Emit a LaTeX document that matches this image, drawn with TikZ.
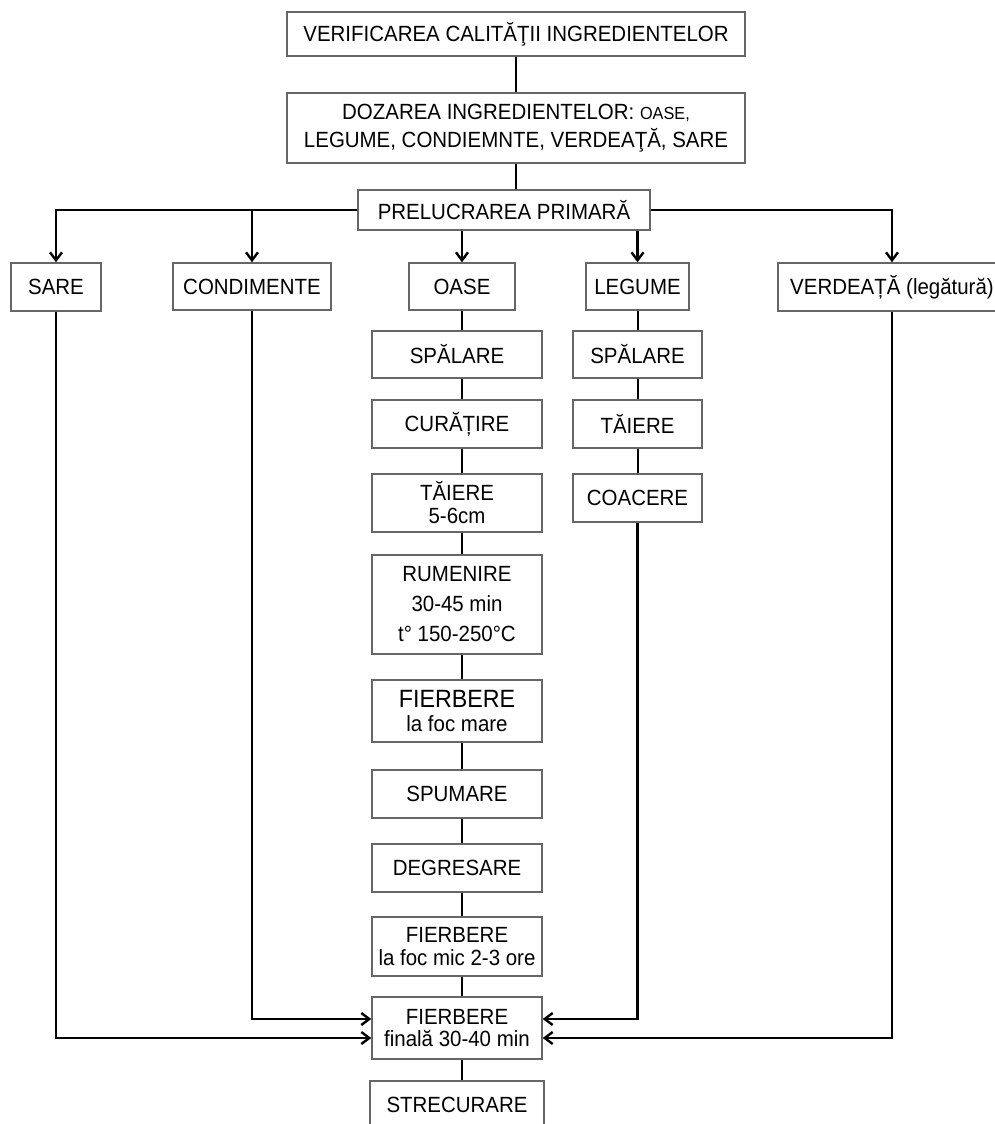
\documentclass[tikz,border=0pt]{standalone}
\usepackage{fontspec}
\setmainfont[FakeStretch=0.93]{Liberation Sans}
\usetikzlibrary{arrows.meta}
\begin{document}
\begin{tikzpicture}[x=1pt,y=1pt,
  box/.style={draw=black!60, line width=1.4pt, fill=white, inner sep=0pt, align=center,
    font=\fontsize{22}{25}\selectfont},
  conn/.style={line width=2pt, draw=black},
  arr/.style={line width=2.6pt, draw=black, -{Straight Barb[length=8pt,width=12pt,line width=2.4pt]}}]
\clip (0,0) rectangle (995,-1124);
\useasboundingbox (0,0) rectangle (995,-1124);
\fill[white] (0,0) rectangle (995,-1124);

\node[box, minimum width=458, minimum height=44] (verif) at (516,-34) {VERIFICAREA CALITĂŢII INGREDIENTELOR};
\node[box, minimum width=458, minimum height=70, font=\fontsize{22}{28}\selectfont] (doz) at (516,-128)
  {DOZAREA INGREDIENTELOR: {\fontsize{17.5}{28}\selectfont OASE,}\\LEGUME, CONDIEMNTE, VERDEAŢĂ, SARE};
\node[box, minimum width=292, minimum height=40] (prel) at (504,-210) {PRELUCRAREA PRIMARĂ};

\node[box, minimum width=90, minimum height=48] (sare) at (56,-287) {SARE};
\node[box, minimum width=158, minimum height=47] (cond) at (252,-286.5) {CONDIMENTE};
\node[box, minimum width=106, minimum height=47] (oase) at (462,-286.5) {OASE};
\node[box, minimum width=103, minimum height=47] (leg) at (637.5,-286.5) {LEGUME};
\node[box, minimum width=228, minimum height=48] (verd) at (892,-287) {VERDEAȚĂ (legătură)};

\node[box, minimum width=170, minimum height=47] (spal1) at (457,-354.5) {SPĂLARE};
\node[box, minimum width=170, minimum height=48] (cur) at (457,-424) {CURĂȚIRE};
\node[box, minimum width=170, minimum height=58, font=\fontsize{22}{23}\selectfont] (tai1) at (457,-503) {TĂIERE\\5-6cm};
\node[box, minimum width=170, minimum height=99, font=\fontsize{22}{30}\selectfont] (rum) at (457,-604.5) {RUMENIRE\\30-45 min\\t° 150-250°C};
\node[box, minimum width=170, minimum height=62, font=\fontsize{22}{24}\selectfont] (fier1) at (457,-711) {{\fontsize{25}{24}\selectfont FIERBERE}\\la foc mare};
\node[box, minimum width=170, minimum height=48] (spum) at (457,-794) {SPUMARE};
\node[box, minimum width=170, minimum height=48] (degr) at (457,-868) {DEGRESARE};
\node[box, minimum width=170, minimum height=59, font=\fontsize{22}{23}\selectfont] (fier2) at (457,-946.5) {FIERBERE\\la foc mic 2-3 ore};
\node[box, minimum width=170, minimum height=62, font=\fontsize{22}{22}\selectfont] (fin) at (457,-1028) {FIERBERE\\finală 30-40 min};
\node[box, minimum width=174, minimum height=48] (strec) at (457,-1105) {STRECURARE};

\node[box, minimum width=129, minimum height=47] (spal2) at (637.5,-354.5) {SPĂLARE};
\node[box, minimum width=129, minimum height=48] (tai2) at (637.5,-424) {TĂIERE};
\node[box, minimum width=129, minimum height=48] (coac) at (637.5,-498) {COACERE};

% connectors
\draw[conn] (verif) -- (doz);
\draw[conn] (doz.south) -- (doz.south |- prel.north);
\draw[arr] (prel.west) -| (sare.north);
\draw[arr] (cond.north |- prel.west) -- (cond.north);
\draw[arr] (prel.east) -| (verd.north);
\draw[arr] (oase.north |- prel.south) -- (oase.north);
\draw[arr] (leg.north |- prel.south) -- (leg.north);

\foreach \a/\b in {oase/spal1, spal1/cur, cur/tai1, tai1/rum, rum/fier1, fier1/spum, spum/degr, degr/fier2, fier2/fin, fin/strec}
  \draw[conn] (oase.center |- \a.south) -- (oase.center |- \b.north);
\foreach \a/\b in {leg/spal2, spal2/tai2, tai2/coac}
  \draw[conn] (\a.south) -- (\b.north);

\draw[arr] (sare.south) |- ([yshift=-10pt]fin.west);
\draw[arr] (cond.south) |- ([yshift=9pt]fin.west);
\draw[arr] (coac.south) |- ([yshift=9pt]fin.east);
\draw[arr] (verd.south) |- ([yshift=-10pt]fin.east);
\end{tikzpicture}
\end{document}
